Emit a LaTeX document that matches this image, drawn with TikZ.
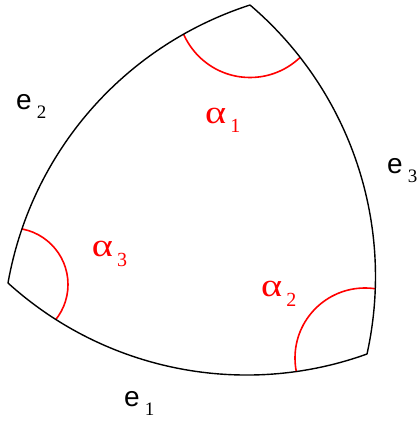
\documentclass[tikz,border=0pt]{standalone}
\usepackage{fontspec}
\setmainfont{Liberation Serif}
\setsansfont{Liberation Sans}
\usetikzlibrary{topaths}

\newcommand{\sidelab}[1]{{\sffamily\fontsize{28}{28}\selectfont e}%
    \hspace{5pt}\raisebox{-9pt}{\fontsize{19}{19}\selectfont #1}}
\newcommand{\anglelab}[1]{\scalebox{1.3}[1.05]{\fontsize{31}{31}\selectfont α}%
    \hspace{4pt}\raisebox{-9.5pt}{\fontsize{20}{20}\selectfont #1}}

\begin{document}
\begin{tikzpicture}[x=1pt, y=1pt,
sideline/.style = {bend right=31, looseness=0.92},
anglearc/.style = {draw=red, line width=1.6pt},
elabel/.style = {anchor=base west, inner sep=0pt},
alabel/.style = {anchor=base west, inner sep=0pt, text=red}
                    ]
\useasboundingbox (0,0) rectangle (420,424);
\coordinate (A) at (250,419);
\coordinate (C) at (8,141);
\coordinate (B) at (367,70);
%
\begin{scope}
\clip (A) to[sideline] (C) to[sideline] (B) to[sideline] (A) -- cycle;
\path[anglearc] (A) circle[radius=72.5];
\path[anglearc] ([shift={(3.5,-1.5)}]C) circle[radius=56.5];
\path[anglearc] ([shift={(-2,-4)}]B) circle[radius=70];
\end{scope}
\draw[line width=1.4pt, line join=round]
    (A) to[sideline] (C) to[sideline] (B) to[sideline] (A);
%
\node[elabel] (e1) at (124,17.3)  {\sidelab{1}};
\node[elabel] (e2) at (16,314)    {\sidelab{2}};
\node[elabel] (e3) at (387,250)   {\sidelab{3}};
\node[alabel] (a1) at (205,300.7) {\anglelab{1}};
\node[alabel] (a2) at (261,127.3) {\anglelab{2}};
\node[alabel] (a3) at (91.7,167.3) {\anglelab{3}};
\end{tikzpicture}
\end{document}
